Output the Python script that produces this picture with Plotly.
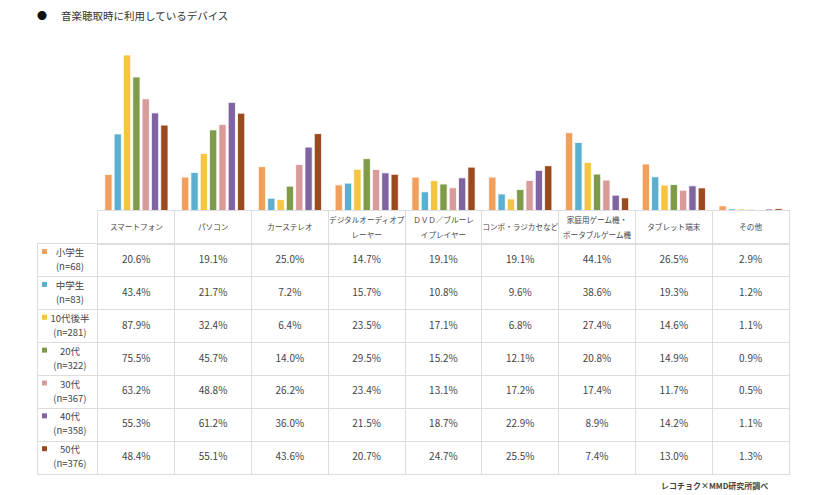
import plotly.graph_objects as go

# the page puts the figure 8px in from the top-left corner
OX, OY = 8, 8
W, H = 832 - OX, 495 - OY

devices = ["スマートフォン", "パソコン", "カーステレオ", "デジタルオーディオプ<br>レーヤー",
           "ＤＶＤ／ブルーレ<br>イプレイヤー", "コンポ・ラジカセなど", "家庭用ゲーム機・<br>ポータブルゲーム機",
           "タブレット端末", "その他"]
groups = ["小学生", "中学生", "10代後半", "20代", "30代", "40代", "50代"]
sizes = ["(n=68)", "(n=83)", "(n=281)", "(n=322)", "(n=367)", "(n=358)", "(n=376)"]

shogakusei = [20.6, 19.1, 25.0, 14.7, 19.1, 19.1, 44.1, 26.5, 2.9]
chugakusei = [43.4, 21.7, 7.2, 15.7, 10.8, 9.6, 38.6, 19.3, 1.2]
teens_late = [87.9, 32.4, 6.4, 23.5, 17.1, 6.8, 27.4, 14.6, 1.1]
age20 = [75.5, 45.7, 14.0, 29.5, 15.2, 12.1, 20.8, 14.9, 0.9]
age30 = [63.2, 48.8, 26.2, 23.4, 13.1, 17.2, 17.4, 11.7, 0.5]
age40 = [55.3, 61.2, 36.0, 21.5, 18.7, 22.9, 8.9, 14.2, 1.1]
age50 = [48.4, 55.1, 43.6, 20.7, 24.7, 25.5, 7.4, 13.0, 1.3]

series = [shogakusei, chugakusei, teens_late, age20, age30, age40, age50]
colors = ["#F0A05A", "#5BAFD0", "#F5C540", "#7F9A48", "#D99A9A", "#8064A2", "#9A4A1E"]

FONT = "Noto Sans CJK JP"
TXT = "#454545"
GRID = "#dddddd"


def px(x):
    return (x - OX) / W


def py(y):
    return 1 - (y - OY) / H


def small(label, size):
    # wrap each line in a span so the line spacing follows the outer font size
    return "<br>".join('<span style="font-size:%gpx">%s</span>' % (size, p)
                       for p in label.split("<br>"))


fig = go.Figure()

# bars
for name, vals, c in zip(groups, series, colors):
    fig.add_trace(go.Bar(x=list(range(len(devices))), y=vals, name=name,
                         marker=dict(color=c, line=dict(color="white", width=0.8)),
                         xaxis="x", yaxis="y", hoverinfo="skip"))

# header row: device names
fig.add_trace(go.Scatter(
    x=[i + 0.5 for i in range(len(devices))], y=[0.5] * len(devices),
    mode="text", text=[small(d, 7.6) for d in devices],
    textposition="middle center",
    textfont=dict(family=FONT, size=11.8, color=TXT),
    xaxis="x3", yaxis="y3", hoverinfo="skip"))

# body: row labels with colour squares
lab_x = -60 / 77 + 32 / 77
sq_x = -60 / 77 + 6.5 / 77
fig.add_trace(go.Scatter(
    x=[lab_x] * len(groups), y=[r + 0.5 for r in range(len(groups))],
    mode="text", text=[small(g + "<br>" + s, 9.5) for g, s in zip(groups, sizes)],
    textposition="middle center",
    textfont=dict(family=FONT, size=10.8, color=TXT),
    xaxis="x4", yaxis="y4", hoverinfo="skip"))
fig.add_trace(go.Scatter(
    x=[sq_x] * len(groups), y=[r + 0.23 for r in range(len(groups))],
    mode="markers", marker=dict(symbol="square", size=5, color=colors),
    xaxis="x4", yaxis="y4", hoverinfo="skip"))

# body: values
cx, cy, ct = [], [], []
for r, vals in enumerate(series):
    for i, v in enumerate(vals):
        cx.append(i + 0.5)
        cy.append(r + 0.5)
        ct.append("%.1f%%" % v)
fig.add_trace(go.Scatter(
    x=cx, y=cy, mode="text", text=ct, textposition="middle center",
    textfont=dict(family=FONT, size=10, color=TXT),
    xaxis="x4", yaxis="y4", hoverinfo="skip"))

grid_axis = dict(showticklabels=False, ticks="", zeroline=False,
                 showline=True, mirror=True, linecolor=GRID, linewidth=1,
                 gridcolor=GRID, gridwidth=1, fixedrange=True)

fig.update_layout(
    width=W, height=H,
    margin=dict(l=0, r=0, t=0, b=0),
    paper_bgcolor="white", plot_bgcolor="white",
    barmode="group", bargap=0.15, bargroupgap=0.22,
    font=dict(family=FONT, color=TXT),
    showlegend=False,
    xaxis=dict(domain=[px(98), px(789)], range=[-0.5, len(devices) - 0.5],
               visible=False, fixedrange=True),
    yaxis=dict(domain=[py(211), 1], range=[0, 87.9 * (211 - OY) / 156],
               visible=False, fixedrange=True),
    xaxis3=dict(grid_axis, domain=[px(98), px(789)], range=[0, len(devices)],
                tickvals=list(range(1, len(devices))), showgrid=True, anchor="y3"),
    yaxis3=dict(grid_axis, domain=[py(244), py(211)], range=[0, 1],
                showgrid=False, anchor="x3"),
    xaxis4=dict(grid_axis, domain=[px(38), px(789)], range=[-60 / 77, len(devices)],
                tickvals=list(range(0, len(devices))), showgrid=True, anchor="y4"),
    yaxis4=dict(grid_axis, domain=[py(474), py(244)], range=[len(groups), 0],
                tickvals=list(range(1, len(groups))), showgrid=True, anchor="x4"),
    annotations=[
        dict(text="●", x=px(42), y=py(15), xref="paper", yref="paper",
             showarrow=False, xanchor="center", yanchor="middle",
             font=dict(size=10, color="#111111")),
        dict(text="音楽聴取時に利用しているデバイス", x=px(59), y=py(15),
             xref="paper", yref="paper", showarrow=False,
             xanchor="left", yanchor="middle",
             font=dict(family=FONT, size=10.5, color="#333333")),
        dict(text="<b>レコチョク×MMD研究所調べ</b>", x=px(770), y=py(485),
             xref="paper", yref="paper", showarrow=False,
             xanchor="right", yanchor="middle",
             font=dict(family=FONT, size=8, color="#444444")),
    ],
)

fig.write_html("out.html")
